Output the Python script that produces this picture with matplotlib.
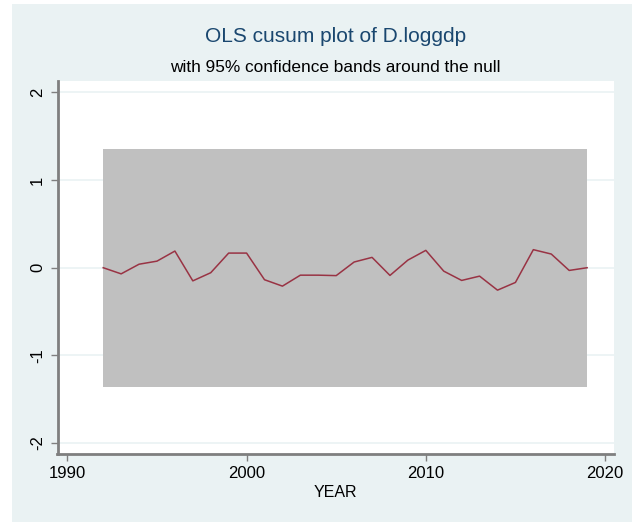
import matplotlib.pyplot as plt
from matplotlib.patches import Rectangle

plt.rcParams["font.family"] = ["Liberation Sans", "DejaVu Sans"]

years = list(range(1992, 2020))
cusum = [0.0, -0.07, 0.04, 0.075, 0.19, -0.15, -0.057, 0.167, 0.167, -0.137,
         -0.21, -0.085, -0.085, -0.09, 0.065, 0.118, -0.088, 0.087, 0.198, -0.039,
         -0.145, -0.096, -0.256, -0.168, 0.206, 0.156, -0.031, 0.0]
band = 1.358
y_ticks = [-2, -1, 0, 1, 2]
x_ticks = [1990, 2000, 2010, 2020]

bg = "#eaf2f3"
spine_color = "#7f7f7f"

fig = plt.figure(figsize=(6.32, 5.23), dpi=100)
fig.patch.set_facecolor("white")
fig.patches.append(Rectangle((12 / 632, 1 / 523), 620 / 632, 518 / 523,
                             transform=fig.transFigure, facecolor=bg,
                             edgecolor="none", zorder=0))

ax = fig.add_axes([57.5 / 632, 1 - 454 / 523, (614 - 57.5) / 632, (454 - 81) / 523])
ax.set_zorder(2)
ax.set_facecolor("white")

# faint gridlines at the y ticks (hidden under the band)
for yt in y_ticks:
    ax.axhline(yt, color=bg, linewidth=1.2, zorder=1)

ax.fill_between([years[0], years[-1]], -band, band, color="#c0c0c0",
                linewidth=0, zorder=2)
ax.plot(years, cusum, color="#993344", linewidth=1.1, zorder=3)

ax.set_xlim(1989.45, 2020.5)
ax.set_ylim(-2.125, 2.13)
ax.set_xticks(x_ticks)
ax.set_yticks(y_ticks)
ax.set_yticklabels([str(v) for v in y_ticks], rotation=90, va="center")
ax.tick_params(axis="both", colors=spine_color, labelcolor="black",
               length=5, width=1, labelsize=12)
ax.tick_params(axis="y", pad=4)

for side in ["top", "right"]:
    ax.spines[side].set_visible(False)
for side in ["left", "bottom"]:
    ax.spines[side].set_color(spine_color)
    ax.spines[side].set_linewidth(2)

ax.set_xlabel("YEAR", fontsize=11.5, labelpad=3)

fig.text(335.7 / 632, 1 - 37 / 523, "OLS cusum plot of D.loggdp", ha="center",
         va="center", fontsize=15, color="#1a476f")
fig.text(335.7 / 632, 1 - 67 / 523, "with 95% confidence bands around the null",
         ha="center", va="center", fontsize=12.4, color="black")

fig.savefig("out.png", dpi=100)
